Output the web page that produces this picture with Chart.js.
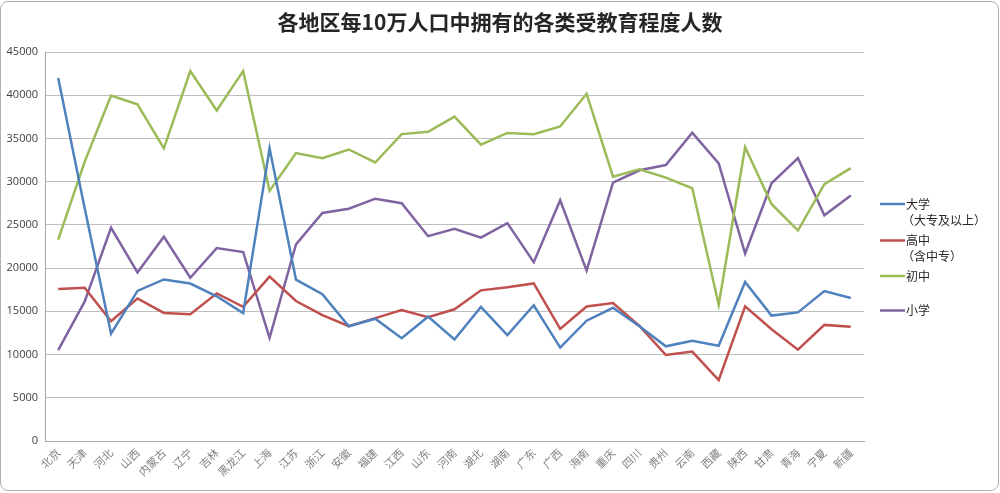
<!DOCTYPE html>
<html>
<head>
<meta charset="utf-8">
<script src="https://cdn.jsdelivr.net/npm/chart.js@4"></script>
<style>
html,body{margin:0;padding:0;background:#fff;}
#wrap{position:relative;width:1000px;height:493px;}
#frame{position:absolute;left:0;top:1px;right:1px;bottom:2px;border:1.5px solid #b0b0b0;border-radius:8px;pointer-events:none;}
canvas{display:block;}
</style>
</head>
<body>
<div id="wrap">
<canvas id="c" width="1000" height="493"></canvas>
<div id="frame"></div>
</div>
<script>
const categories = ['北京','天津','河北','山西','内蒙古','辽宁','吉林','黑龙江','上海','江苏','浙江','安徽','福建','江西','山东','河南','湖北','湖南','广东','广西','海南','重庆','四川','贵州','云南','西藏','陕西','甘肃','青海','宁夏','新疆'];
const university = [41980,26940,12418,17358,18688,18216,16738,14793,33872,18663,16990,13280,14148,11897,14384,11744,15502,12239,15699,10806,13919,15412,13267,10952,11601,11019,18397,14506,14880,17340,16536];
const highSchool = [17593,17719,13861,16485,14814,14670,17080,15525,19020,16191,14555,13294,14212,15145,14334,15239,17428,17776,18224,12962,15561,15956,13301,9951,10338,7051,15581,12937,10568,13432,13208];
const middleSchool = [23289,32294,39950,38950,33861,42799,38234,42793,28935,33308,32706,33724,32218,35501,35778,37518,34280,35636,35484,36388,40174,30582,31443,30464,29241,15757,33979,27423,24344,29717,31559];
const primary = [10503,16123,24664,19506,23627,18888,22318,21863,11929,22742,26384,26875,28031,27514,23693,24557,23520,25214,20676,27855,19701,29894,31317,31921,35667,32108,21686,29808,32725,26111,28405];
const seriesNames = ['大学','高中','初中','小学'];
const subNames = ['（大专及以上）','（含中专）','',''];
const colors = ['#4f81bd','#c0504d','#9bbb59','#8064a2'];

const legendPlugin = {
  id: 'sideLegend',
  afterDraw(chart) {
    const ctx = chart.ctx;
    const ys = [204, 240.5, 276, 310.5];
    chart.data.datasets.forEach((ds, i) => {
      const y = ys[i];
      ctx.save();
      ctx.strokeStyle = ds.borderColor;
      ctx.lineWidth = 2.5;
      ctx.beginPath();
      ctx.moveTo(880, y);
      ctx.lineTo(905, y);
      ctx.stroke();
      ctx.fillStyle = '#262626';
      ctx.font = '12px "Noto Sans CJK SC"';
      ctx.textBaseline = 'middle';
      ctx.textAlign = 'left';
      ctx.fillText(ds.label, 906, y);
      if (subNames[i]) ctx.fillText(subNames[i], 902, y + 16);
      ctx.restore();
    });
  }
};

const data = [university, highSchool, middleSchool, primary];
new Chart(document.getElementById('c'), {
  type: 'line',
  data: {
    labels: categories,
    datasets: data.map((d, i) => ({
      label: seriesNames[i],
      data: d,
      borderColor: colors[i],
      backgroundColor: colors[i],
      borderWidth: 2.5,
      pointRadius: 0,
      tension: 0,
      fill: false
    }))
  },
  options: {
    responsive: false,
    animation: false,
    devicePixelRatio: 1,
    layout: { padding: { left: 0, right: 0, top: 0, bottom: 0 } },
    plugins: {
      legend: { display: false },
      tooltip: { enabled: false },
      title: {
        display: true,
        text: '各地区每10万人口中拥有的各类受教育程度人数',
        color: '#262626',
        font: { family: '"Noto Sans CJK SC"', size: 21, weight: 'bold' },
        padding: { top: 9, bottom: 17.8 }
      }
    },
    scales: {
      x: {
        offset: true,
        grid: { display: false, drawTicks: false },
        border: { display: true, color: '#a6a6a6', width: 1 },
        ticks: {
          autoSkip: false,
          maxRotation: 45,
          minRotation: 45,
          padding: 5,
          color: '#808080',
          font: { family: '"Noto Sans CJK SC"', size: 11 }
        },
        afterFit(scale) { scale.height = 52; }
      },
      y: {
        min: 0,
        max: 45000,
        grid: { color: '#bdbdbd', lineWidth: 1, drawTicks: false },
        border: { display: true, color: '#a6a6a6', width: 1 },
        ticks: {
          stepSize: 5000,
          padding: 7,
          color: '#404040',
          font: { family: '"Open Sans"', size: 11 },
          callback: (v) => String(v)
        },
        afterFit(scale) { scale.width = 45; }
      },
      side: {
        type: 'linear',
        position: 'right',
        display: true,
        grid: { display: false, drawTicks: false },
        border: { display: false },
        ticks: { display: false },
        afterFit(scale) { scale.width = 136; }
      }
    }
  },
  plugins: [legendPlugin]
});
</script>
</body>
</html>
